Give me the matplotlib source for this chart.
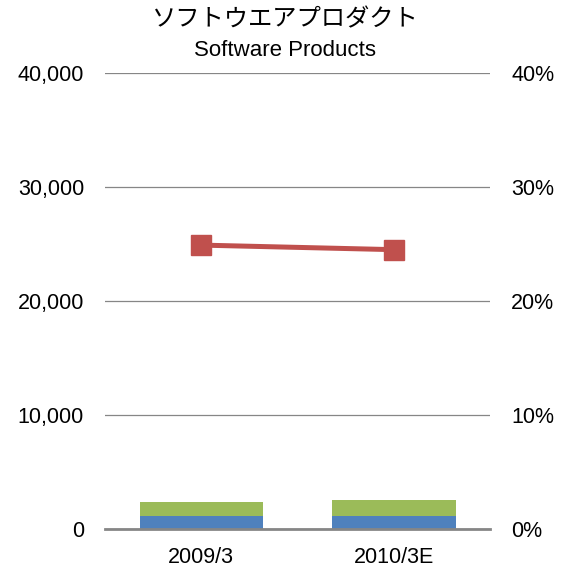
import matplotlib
matplotlib.use('Agg')
import matplotlib.pyplot as plt

# data
categories = ['2009/3', '2010/3E']
lower_vals = [1150, 1150]      # blue
upper_vals = [1200, 1350]      # green, stacked on blue
ratio_pct = [24.9, 24.5]       # red line, right axis (%)

blue = '#4f81bd'
green = '#9bbb59'
red = '#c0504d'
grid_col = '#868686'

plt.rcParams['font.family'] = ['Liberation Sans', 'DejaVu Sans']

fig = plt.figure(figsize=(5.7, 5.79), dpi=100)
ax = fig.add_axes([0.184, 0.0864, 0.676, 0.7876])

x = list(range(len(categories)))
ax.bar(x, lower_vals, width=0.64, color=blue, zorder=2)
ax.bar(x, upper_vals, width=0.64, bottom=lower_vals, color=green, zorder=2)

ax.set_xlim(-0.5, 1.5)
ax.set_ylim(0, 40000)
ax.set_yticks([0, 10000, 20000, 30000, 40000])
ax.set_yticklabels(['0', '10,000', '20,000', '30,000', '40,000'])
ax.set_xticks(x)
ax.set_xticklabels(categories)
ax.grid(axis='y', color=grid_col, linewidth=0.9, zorder=0)
for s in ['top', 'right', 'left']:
    ax.spines[s].set_visible(False)
ax.spines['bottom'].set_color(grid_col)
ax.spines['bottom'].set_linewidth(2)
ax.tick_params(axis='both', length=0, labelsize=15.5, pad=15)
ax.tick_params(axis='x', pad=13)

ax2 = ax.twinx()
ax2.plot(x, ratio_pct, color=red, linewidth=3.6, marker='s', markersize=14.5, zorder=3)
ax2.set_ylim(0, 40)
ax2.set_yticks([0, 10, 20, 30, 40])
ax2.set_yticklabels(['0%', '10%', '20%', '30%', '40%'])
for s in ax2.spines.values():
    s.set_visible(False)
ax2.tick_params(axis='y', length=0, labelsize=15.5, pad=15)

fig.text(0.5, 0.966, 'ソフトウエアプロダクト', ha='center', va='center', fontsize=17.5,
         family=['Noto Sans CJK JP', 'DejaVu Sans'])
fig.text(0.5, 0.912, 'Software Products', ha='center', va='center', fontsize=16)

fig.savefig('out.png', dpi=100)
